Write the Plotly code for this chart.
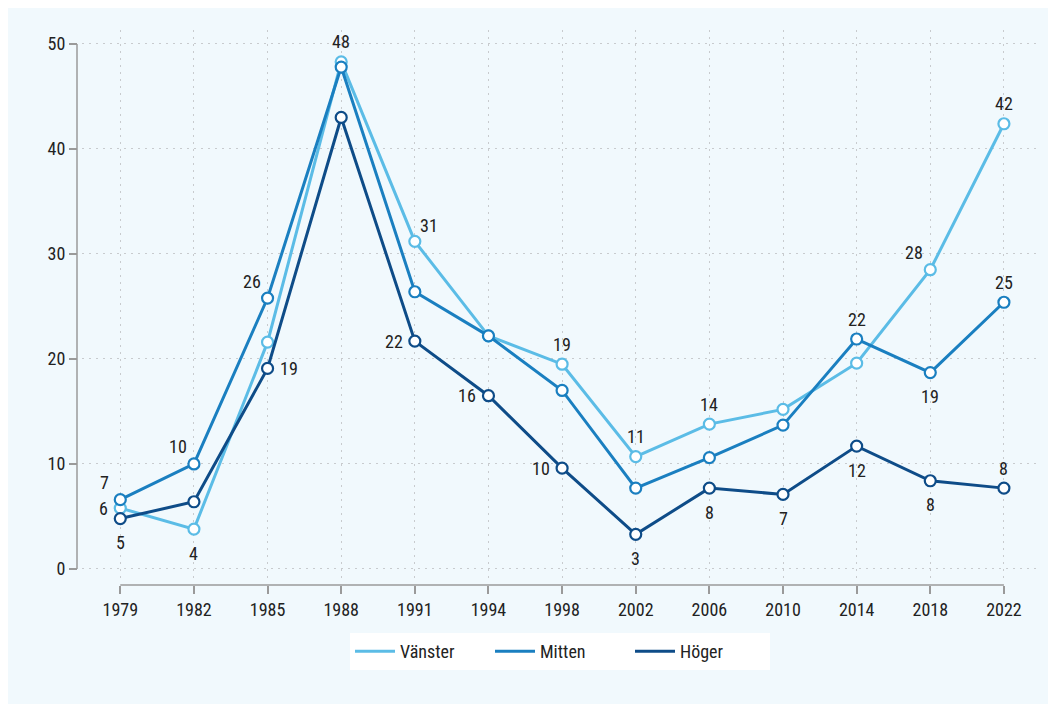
import plotly.graph_objects as go

years = ["1979", "1982", "1985", "1988", "1991", "1994", "1998", "2002", "2006", "2010", "2014", "2018", "2022"]

vanster = [5.8, 3.8, 21.6, 48.3, 31.2, 22.2, 19.5, 10.7, 13.8, 15.2, 19.6, 28.5, 42.4]
mitten = [6.6, 10.0, 25.8, 47.8, 26.4, 22.2, 17.0, 7.7, 10.6, 13.7, 21.9, 18.7, 25.4]
hoger = [4.8, 6.4, 19.1, 43.0, 21.7, 16.5, 9.6, 3.3, 7.7, 7.1, 11.7, 8.4, 7.7]

vanster_labels = ["6", "4", "", "48", "31", "", "19", "11", "14", "", "", "28", "42"]
mitten_labels = ["7", "10", "26", "", "", "", "", "", "", "", "22", "19", "25"]
hoger_labels = ["5", "", "19", "", "22", "16", "10", "3", "8", "7", "12", "8", "8"]

# label placement relative to the marker: T=top, B=bottom, L=left, R=right, TL=top-left, TR=top-right
vanster_pos = ["L", "B", "T", "T", "TR", "T", "T", "T", "T", "T", "T", "TL", "T"]
mitten_pos = ["TL", "TL", "TL", "T", "T", "T", "T", "T", "T", "T", "T", "B", "T"]
hoger_pos = ["B", "T", "R", "T", "L", "L", "L", "B", "B", "B", "B", "B", "T"]

names = ["Vänster", "Mitten", "Höger"]
colors = ["#5bbce6", "#1a7fc0", "#0e4c88"]

FONT = "Roboto Condensed, Liberation Sans Narrow, Arial Narrow, Liberation Sans, sans-serif"
TEXT = "#222222"
BG = "#f1f9fd"
FS = 18

OFF = 8  # page body margin
W, H = 1056 - OFF, 704 - OFF


def px_x(p):
    return (p - OFF) / W


def px_y(p):
    return 1 - (p - OFF) / H


fig = go.Figure()

series = [(vanster, vanster_labels, vanster_pos), (mitten, mitten_labels, mitten_pos), (hoger, hoger_labels, hoger_pos)]
shift = {
    "T": dict(xshift=0, yshift=20, xanchor="center"),
    "B": dict(xshift=0, yshift=-24, xanchor="center"),
    "L": dict(xshift=-10, yshift=0, xanchor="right"),
    "R": dict(xshift=10, yshift=0, xanchor="left"),
    "TL": dict(xshift=-16, yshift=17, xanchor="center"),
    "TR": dict(xshift=14, yshift=16, xanchor="center"),
}
annotations = []
for (vals, labs, pos), name, col in zip(series, names, colors):
    fig.add_trace(go.Scatter(
        x=years, y=vals, mode="lines+markers", name=name, showlegend=False,
        line=dict(color=col, width=3),
        marker=dict(symbol="circle", size=11, color="white", line=dict(color=col, width=2.2)),
        cliponaxis=False, hoverinfo="skip",
    ))
    for i, (v, lab, p) in enumerate(zip(vals, labs, pos)):
        if lab:
            annotations.append(dict(x=i, y=v, xref="x", yref="y", text=lab, showarrow=False,
                                    yanchor="middle", font=dict(size=FS, color=TEXT, family=FONT), **shift[p]))

for name, col in zip(names, colors):
    fig.add_trace(go.Scatter(x=[None], y=[None], mode="lines", name=name,
                             line=dict(color=col, width=3), showlegend=True))

x_dom = [px_x(82), px_x(1040)]
y_dom = [px_y(578), px_y(30)]
x_axis_pos = px_y(585)
y_axis_pos = px_x(77)

fig.update_layout(
    width=W, height=H, autosize=False,
    margin=dict(l=0, r=0, t=0, b=0),
    paper_bgcolor=BG, plot_bgcolor=BG,
    font=dict(family=FONT, size=FS, color=TEXT),
    xaxis=dict(
        type="category", domain=x_dom, range=[-0.52, 12.49], anchor="free", position=x_axis_pos,
        showline=False, ticks="outside", ticklen=8, tickwidth=1.5, tickcolor="#9a9a9a",
        showgrid=True, gridcolor="#c8cbce", griddash="2px,5px", gridwidth=1.2,
        zeroline=False, tickfont=dict(size=FS, color=TEXT), automargin=False,
    ),
    yaxis=dict(
        domain=y_dom, range=[-0.86, 51.33], anchor="free", position=y_axis_pos,
        tickvals=[0, 10, 20, 30, 40, 50],
        showline=False, ticks="outside", ticklen=8, tickwidth=1.5, tickcolor="#9a9a9a",
        showgrid=True, gridcolor="#c8cbce", griddash="2px,5px", gridwidth=1.2,
        zeroline=False, tickfont=dict(size=FS, color=TEXT), automargin=False,
    ),
    legend=dict(
        orientation="h", x=px_x(560), xanchor="center", y=px_y(633), yanchor="top",
        bgcolor="white", font=dict(size=FS, color=TEXT, family=FONT),
        itemwidth=40, entrywidth=85, entrywidthmode="pixels",
    ),
    annotations=annotations,
    shapes=[
        dict(type="line", xref="x", yref="paper", x0=0, x1=12, y0=x_axis_pos, y1=x_axis_pos,
             line=dict(color="#9a9a9a", width=1.5)),
        dict(type="line", xref="paper", yref="y", x0=y_axis_pos, x1=y_axis_pos, y0=0, y1=50,
             line=dict(color="#9a9a9a", width=1.5)),
    ],
)

fig.write_html("out.html")
